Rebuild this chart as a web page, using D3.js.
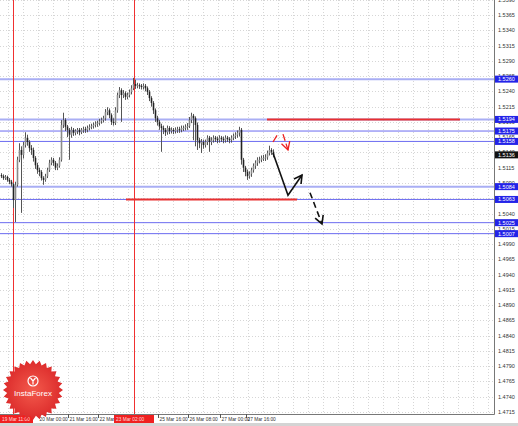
<!DOCTYPE html>
<html>
<head>
<meta charset="utf-8">
<script src="https://cdnjs.cloudflare.com/ajax/libs/d3/7.8.5/d3.min.js"></script>
<style>
body { margin: 0; background: #fff; }
svg { display: block; }
text { font-family: "Liberation Sans", Arial, sans-serif; }
</style>
</head>
<body>
<script>
// hourly candles
var firstOpen = 1.5103;
var closes = [
  1.5101, 1.5098, 1.5100, 1.5095, 1.5092, 1.5088, 1.5062, 1.5087, 1.5128, 1.5144,
  1.5136, 1.5152, 1.5164, 1.5157, 1.5147, 1.5144, 1.5131, 1.5119, 1.5111, 1.5108,
  1.5098, 1.5095, 1.5101, 1.5111, 1.5123, 1.5128, 1.5123, 1.5115, 1.5118, 1.5128,
  1.5185, 1.5193, 1.5182, 1.5177, 1.5169, 1.5177, 1.5172, 1.5175, 1.5177, 1.5173,
  1.5177, 1.5178, 1.5177, 1.5180, 1.5182, 1.5183, 1.5185, 1.5187, 1.5188, 1.5191,
  1.5193, 1.5196, 1.5206, 1.5209, 1.5201, 1.5190, 1.5188, 1.5209, 1.5234, 1.5242,
  1.5234, 1.5237, 1.5231, 1.5234, 1.5239, 1.5245, 1.5252, 1.5249, 1.5250, 1.5249,
  1.5247, 1.5249, 1.5245, 1.5239, 1.5229, 1.5221, 1.5209, 1.5196, 1.5190, 1.5183,
  1.5180, 1.5177, 1.5173, 1.5180, 1.5175, 1.5177, 1.5175, 1.5177, 1.5178, 1.5177,
  1.5180, 1.5180, 1.5182, 1.5183, 1.5193, 1.5200, 1.5196, 1.5185, 1.5160, 1.5155,
  1.5157, 1.5152, 1.5157, 1.5164, 1.5157, 1.5160, 1.5164, 1.5162, 1.5160, 1.5164,
  1.5162, 1.5160, 1.5164, 1.5162, 1.5160, 1.5164, 1.5167, 1.5169, 1.5172, 1.5177,
  1.5128, 1.5115, 1.5108, 1.5101, 1.5105, 1.5111, 1.5118, 1.5123, 1.5128, 1.5128,
  1.5131, 1.5131, 1.5132, 1.5139, 1.5144, 1.5141, 1.5136
];
var highs = [
  1.5106, 1.5104, 1.5103, 1.5102, 1.5098, 1.5095, 1.5090, 1.5092, 1.5133, 1.5155,
  1.5150, 1.5157, 1.5173, 1.5169, 1.5160, 1.5152, 1.5148, 1.5134, 1.5123, 1.5115,
  1.5111, 1.5101, 1.5105, 1.5115, 1.5128, 1.5132, 1.5131, 1.5126, 1.5122, 1.5132,
  1.5193, 1.5205, 1.5196, 1.5185, 1.5180, 1.5182, 1.5180, 1.5178, 1.5180, 1.5180,
  1.5180, 1.5182, 1.5182, 1.5184, 1.5186, 1.5187, 1.5189, 1.5191, 1.5192, 1.5195,
  1.5197, 1.5200, 1.5211, 1.5214, 1.5212, 1.5204, 1.5196, 1.5214, 1.5238, 1.5247,
  1.5245, 1.5242, 1.5240, 1.5238, 1.5243, 1.5250, 1.5262, 1.5259, 1.5254, 1.5253,
  1.5252, 1.5253, 1.5252, 1.5248, 1.5242, 1.5232, 1.5224, 1.5212, 1.5200, 1.5193,
  1.5187, 1.5184, 1.5180, 1.5184, 1.5183, 1.5181, 1.5180, 1.5181, 1.5182, 1.5182,
  1.5184, 1.5184, 1.5186, 1.5188, 1.5198, 1.5205, 1.5203, 1.5199, 1.5189, 1.5164,
  1.5162, 1.5161, 1.5161, 1.5168, 1.5167, 1.5165, 1.5168, 1.5167, 1.5166, 1.5168,
  1.5167, 1.5166, 1.5168, 1.5167, 1.5165, 1.5168, 1.5171, 1.5173, 1.5176, 1.5182,
  1.5180, 1.5131, 1.5118, 1.5112, 1.5109, 1.5115, 1.5122, 1.5127, 1.5132, 1.5133,
  1.5135, 1.5136, 1.5137, 1.5143, 1.5151, 1.5147, 1.5145
];
var lows = [
  1.5098, 1.5095, 1.5095, 1.5092, 1.5088, 1.5084, 1.5049, 1.5026, 1.5084, 1.5124,
  1.5041, 1.5130, 1.5148, 1.5151, 1.5141, 1.5136, 1.5125, 1.5113, 1.5105, 1.5101,
  1.5094, 1.5087, 1.5092, 1.5098, 1.5108, 1.5119, 1.5118, 1.5111, 1.5111, 1.5115,
  1.5125, 1.5180, 1.5175, 1.5165, 1.5128, 1.5164, 1.5167, 1.5168, 1.5170, 1.5168,
  1.5170, 1.5172, 1.5172, 1.5173, 1.5176, 1.5178, 1.5179, 1.5181, 1.5182, 1.5184,
  1.5187, 1.5189, 1.5192, 1.5201, 1.5196, 1.5185, 1.5184, 1.5185, 1.5205, 1.5229,
  1.5190, 1.5229, 1.5226, 1.5227, 1.5230, 1.5235, 1.5242, 1.5244, 1.5245, 1.5244,
  1.5243, 1.5243, 1.5240, 1.5234, 1.5224, 1.5215, 1.5203, 1.5190, 1.5184, 1.5177,
  1.5141, 1.5170, 1.5167, 1.5169, 1.5170, 1.5171, 1.5170, 1.5171, 1.5172, 1.5172,
  1.5173, 1.5175, 1.5176, 1.5177, 1.5180, 1.5188, 1.5160, 1.5150, 1.5144, 1.5147,
  1.5139, 1.5146, 1.5148, 1.5152, 1.5141, 1.5152, 1.5156, 1.5157, 1.5155, 1.5156,
  1.5157, 1.5155, 1.5156, 1.5157, 1.5155, 1.5156, 1.5160, 1.5162, 1.5164, 1.5166,
  1.5120, 1.5108, 1.5101, 1.5095, 1.5097, 1.5100, 1.5107, 1.5113, 1.5118, 1.5122,
  1.5124, 1.5126, 1.5126, 1.5128, 1.5135, 1.5136, 1.5132
];

var priceTicks = ['1.4715', '1.4740', '1.4765', '1.4790', '1.4815', '1.4840', '1.4865',
  '1.4890', '1.4915', '1.4940', '1.4965', '1.4990', '1.5015', '1.5040', '1.5065',
  '1.5090', '1.5115', '1.5140', '1.5165', '1.5190', '1.5215', '1.5240', '1.5265',
  '1.5290', '1.5315', '1.5340', '1.5365', '1.5390'];

var levels = ['1.5260', '1.5194', '1.5175', '1.5158', '1.5084', '1.5063', '1.5025', '1.5007'];
var currentPrice = '1.5136';

var timeLabels = ['20 Mar 00:00', '21 Mar 16:00', '22 Mar 08:00', '25 Mar 16:00',
  '26 Mar 08:00', '27 Mar 00:00', '27 Mar 16:00'];
var timeLabelBars = [18.5, 33.5, 48.5, 78.5, 93.5, 109.5, 122.5];

var markerBars = [6, 66.5];
var markerLabels = ['19 Mar 11:00', '23 Mar 02:00'];

// red segments: price, first bar, last bar
var redSegments = [[1.5194, 133, 229.5], [1.5063, 62.5, 148]];

// hand-drawn forecast arrows (bar, price)
var blackArrow = [[136, 1.5139], [143.5, 1.5070], [150.5, 1.5103]];
var dashedArrow = [[154.5, 1.5074], [160.5, 1.5023]];
var redTick = [[136, 1.5157], [138, 1.5168]];
var redArrow = [[141, 1.5170], [143.5, 1.5144]];

var W = 518, H = 426, plotR = 494, plotB = 414;

var svg = d3.select('body').append('svg')
  .attr('width', W)
  .attr('height', H);

var x = d3.scaleLinear().domain([0, 136]).range([1, 273]);
var y = d3.scaleLinear().domain([1.4715, 1.5365]).range([412, 15]);

svg.append('rect')
  .attr('width', W).attr('height', H)
  .attr('fill', '#fff');

svg.append('clipPath').attr('id', 'plot')
  .append('rect')
  .attr('width', plotR).attr('height', plotB);

var plot = svg.append('g').attr('clip-path', 'url(#plot)');

// grid
plot.selectAll('.hgrid')
  .data(priceTicks)
  .enter().append('line')
  .attr('x1', 0).attr('x2', plotR)
  .attr('y1', function(d) { return Math.round(y(+d)) + 0.5; })
  .attr('y2', function(d) { return Math.round(y(+d)) + 0.5; })
  .attr('stroke', '#d6d6d6')
  .attr('stroke-dasharray', '1,2');

plot.selectAll('.vgrid')
  .data(d3.range(3.5, 250, 7.5))
  .enter().append('line')
  .attr('x1', function(d) { return Math.round(x(d)) + 0.5; })
  .attr('x2', function(d) { return Math.round(x(d)) + 0.5; })
  .attr('y1', 0).attr('y2', plotB)
  .attr('stroke', '#d6d6d6')
  .attr('stroke-dasharray', '1,2');

// horizontal levels
var heavy = ['1.5260', '1.5194', '1.5084'];
plot.selectAll('.level')
  .data(levels)
  .enter().append('line')
  .attr('x1', 0).attr('x2', plotR)
  .attr('y1', function(d) { return y(+d); })
  .attr('y2', function(d) { return y(+d); })
  .attr('stroke', function(d) { return heavy.indexOf(d) >= 0 ? '#a9aef4' : '#6b6bf0'; })
  .attr('stroke-width', function(d) { return heavy.indexOf(d) >= 0 ? 2 : 1; });

plot.selectAll('.vmark')
  .data(markerBars)
  .enter().append('line')
  .attr('x1', function(d) { return Math.round(x(d)) + 0.5; })
  .attr('x2', function(d) { return Math.round(x(d)) + 0.5; })
  .attr('y1', 0).attr('y2', plotB)
  .attr('stroke', '#f03030');

plot.selectAll('.redseg')
  .data(redSegments)
  .enter().append('line')
  .attr('x1', function(d) { return x(d[1]); })
  .attr('x2', function(d) { return x(d[2]); })
  .attr('y1', function(d) { return y(d[0]); })
  .attr('y2', function(d) { return y(d[0]); })
  .attr('stroke', '#e83030')
  .attr('stroke-width', 2);

// candles
var bars = closes.map(function(c, i) {
  return { i: i, o: i === 0 ? firstOpen : closes[i - 1], c: c, h: highs[i], l: lows[i] };
});

var candle = plot.selectAll('.bar')
  .data(bars)
  .enter().append('g');

candle.append('line')
  .attr('x1', function(d) { return x(d.i) + 0.5; })
  .attr('x2', function(d) { return x(d.i) + 0.5; })
  .attr('y1', function(d) { return y(d.h); })
  .attr('y2', function(d) { return y(d.l); })
  .attr('stroke', '#555')
  .attr('stroke-width', 1);

candle.append('rect')
  .attr('x', function(d) { return x(d.i) - 0.3; })
  .attr('width', 1.6)
  .attr('y', function(d) { return y(Math.max(d.o, d.c)); })
  .attr('height', function(d) { return Math.max(1, Math.abs(y(d.o) - y(d.c))); })
  .attr('fill', function(d) { return d.c >= d.o ? '#8a8a8a' : '#222'; });

// arrows
function px(p) { return [x(p[0]), y(p[1])]; }

function head(pts, len) {
  var a = px(pts[pts.length - 2]), b = px(pts[pts.length - 1]);
  var ang = Math.atan2(a[1] - b[1], a[0] - b[0]);
  var s = 0.5;
  return [[b[0] + len * Math.cos(ang + s), b[1] + len * Math.sin(ang + s)], b,
          [b[0] + len * Math.cos(ang - s), b[1] + len * Math.sin(ang - s)]];
}

var line = d3.line();

function arrow(pts, color, w, dash) {
  svg.append('path')
    .attr('d', line(pts.map(px)))
    .attr('fill', 'none')
    .attr('stroke', color)
    .attr('stroke-width', w)
    .attr('stroke-dasharray', dash);
  svg.append('path')
    .attr('d', line(head(pts, 9)))
    .attr('fill', 'none')
    .attr('stroke', color)
    .attr('stroke-width', w);
}

arrow(blackArrow, '#111', 1.6, null);
arrow(dashedArrow, '#111', 1.6, '6,4');
arrow(redArrow, '#ee2020', 1.3, '7,3');
svg.append('path')
  .attr('d', line(redTick.map(px)))
  .attr('stroke', '#ee2020')
  .attr('stroke-width', 1.3);

// frame
svg.append('line')
  .attr('x1', plotR + 0.5).attr('x2', plotR + 0.5)
  .attr('y1', 0).attr('y2', plotB + 0.5)
  .attr('stroke', '#777');
svg.append('line')
  .attr('x1', 0).attr('x2', plotR + 0.5)
  .attr('y1', plotB + 0.5).attr('y2', plotB + 0.5)
  .attr('stroke', '#777');

// price labels
svg.selectAll('.ptick')
  .data(priceTicks)
  .enter().append('text')
  .attr('x', plotR + 4)
  .attr('y', function(d) { return y(+d) + 2; })
  .attr('font-size', 5.5)
  .attr('fill', '#333')
  .text(function(d) { return d; });

var boxes = svg.selectAll('.pbox')
  .data(levels.concat([currentPrice]))
  .enter().append('g');
boxes.append('rect')
  .attr('x', plotR + 1)
  .attr('width', W - plotR - 1)
  .attr('y', function(d) { return y(+d) - 3.5; })
  .attr('height', 7)
  .attr('fill', function(d) { return d === currentPrice ? '#111' : '#2323e8'; });
boxes.append('text')
  .attr('x', plotR + 4)
  .attr('y', function(d) { return y(+d) + 2; })
  .attr('font-size', 5.5)
  .attr('fill', '#fff')
  .text(function(d) { return d; });

// time labels
svg.selectAll('.ttick')
  .data(timeLabelBars)
  .enter().append('line')
  .attr('x1', function(d) { return Math.round(x(d)) + 0.5; })
  .attr('x2', function(d) { return Math.round(x(d)) + 0.5; })
  .attr('y1', plotB).attr('y2', plotB + 4)
  .attr('stroke', '#555');

svg.selectAll('.tlabel')
  .data(timeLabels)
  .enter().append('text')
  .attr('x', function(d, i) { return x(timeLabelBars[i]) + 1.5; })
  .attr('y', plotB + 7)
  .attr('font-size', 4.8)
  .attr('fill', '#333')
  .text(function(d) { return d; });

var mk = svg.selectAll('.mlabel')
  .data(markerBars)
  .enter().append('g');
mk.append('rect')
  .attr('x', function(d) { return Math.max(0, x(d) - 20); })
  .attr('y', plotB + 1)
  .attr('width', function(d) { return x(d) - 20 < 0 ? x(d) + 20 : 40; })
  .attr('height', 8)
  .attr('fill', '#f02020');
mk.append('text')
  .attr('x', function(d) { return Math.max(0, x(d) - 20) + 2; })
  .attr('y', plotB + 7)
  .attr('font-size', 4.8)
  .attr('fill', '#fdd')
  .text(function(d, i) { return markerLabels[i]; });

svg.append('rect')
  .attr('x', 0).attr('y', 423)
  .attr('width', W).attr('height', 3)
  .attr('fill', '#d4d4d4');

// InstaForex badge
var cx = 33, cy = 390;
var star = d3.range(56).map(function(k) {
  var r = k % 2 ? 26 : 30, a = k / 56 * Math.PI * 2;
  return [cx + r * Math.cos(a), cy + r * Math.sin(a)];
});
var grad = svg.append('defs').append('radialGradient').attr('id', 'badge');
grad.append('stop').attr('offset', '0%').attr('stop-color', '#f35a4c');
grad.append('stop').attr('offset', '100%').attr('stop-color', '#dc2b2b');
svg.append('path')
  .attr('d', line(star) + 'Z')
  .attr('fill', 'url(#badge)');
svg.append('circle')
  .attr('cx', cx).attr('cy', cy - 9)
  .attr('r', 5)
  .attr('fill', 'none')
  .attr('stroke', '#fff')
  .attr('stroke-width', 1.2);
svg.append('path')
  .attr('d', 'M' + (cx - 2.5) + ',' + (cy - 12) + 'L' + cx + ',' + (cy - 9) + 'L' + (cx + 2.5) + ',' + (cy - 12) +
    'M' + cx + ',' + (cy - 9) + 'L' + cx + ',' + (cy - 5.5))
  .attr('fill', 'none')
  .attr('stroke', '#fff')
  .attr('stroke-width', 1.2);
svg.append('text')
  .attr('x', cx).attr('y', cy + 6)
  .attr('text-anchor', 'middle')
  .attr('font-size', 8)
  .attr('fill', '#fff')
  .text('InstaForex');
</script>
</body>
</html>
